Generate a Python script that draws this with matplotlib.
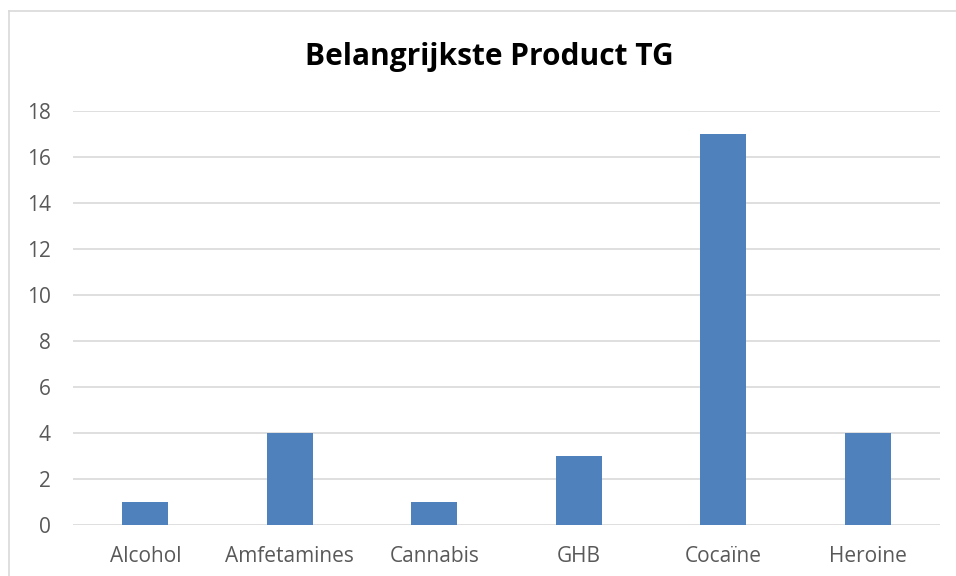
from matplotlib import pyplot as plt
from matplotlib.lines import Line2D

categories = ['Alcohol', 'Amfetamines', 'Cannabis', 'GHB', 'Cocaïne', 'Heroine']
values = [1, 4, 1, 3, 17, 4]
yticks = [0, 2, 4, 6, 8, 10, 12, 14, 16, 18]

plt.rcParams['font.family'] = ['Open Sans', 'DejaVu Sans']

fig = plt.figure(figsize=(9.56, 5.76), dpi=100)
ax = fig.add_axes([73 / 956, 1 - 525 / 576, 867 / 956, 414 / 576])

ax.bar(range(len(categories)), values, width=0.315, color='#4f81bd', zorder=3)
ax.set_xlim(-0.5, len(categories) - 0.5)
ax.set_ylim(0, 18)
ax.set_yticks(yticks)
ax.set_xticks(range(len(categories)))
ax.set_xticklabels(categories)

ax.grid(axis='y', color='#d9d9d9', linewidth=1.2, zorder=0)
for s in ax.spines.values():
    s.set_visible(False)
ax.tick_params(axis='both', length=0, labelsize=15, colors='#595959')
ax.tick_params(axis='x', pad=15)
ax.tick_params(axis='y', pad=16)

fig.text(489 / 956, 1 - 65 / 576, 'Belangrijkste Product TG', ha='center', va='baseline',
         fontsize=21.5, fontweight='bold', color='black')

# chart frame (only top and left edges visible in the crop)
fig.add_artist(Line2D([8.5 / 956, 8.5 / 956], [0, 1 - 11 / 576], transform=fig.transFigure,
                      color='#d9d9d9', linewidth=1.2))
fig.add_artist(Line2D([8.5 / 956, 1], [1 - 11 / 576, 1 - 11 / 576], transform=fig.transFigure,
                      color='#d9d9d9', linewidth=1.2))

fig.savefig('out.png', dpi=100)
